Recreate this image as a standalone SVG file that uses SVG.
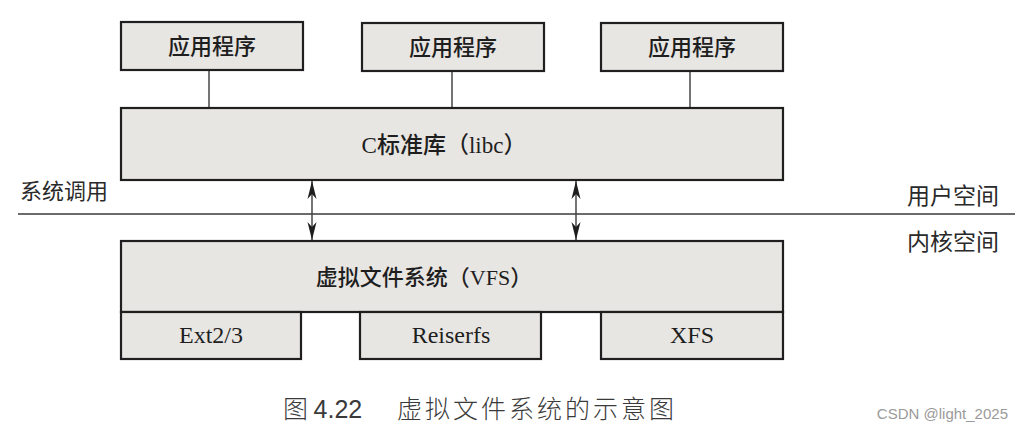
<svg xmlns="http://www.w3.org/2000/svg" width="1023" height="431" viewBox="0 0 1023 431">
  <style>
    .box { fill: #e8e6e3; stroke: #1f1f1f; stroke-width: 2.2; }
    .conn { stroke: #2a2a2a; stroke-width: 1.3; fill: none; }
    .lbl { font-family: "Liberation Serif", "Noto Sans CJK SC", serif; fill: #1e1e1e; text-anchor: middle; font-weight: 500; }
    .en { font-family: "Liberation Serif", serif; fill: #1e1e1e; text-anchor: middle; font-size: 24px; }
    .cn { font-family: "Noto Sans CJK SC", sans-serif; fill: #2a2a2a; font-weight: 400; }
  </style>
  <defs>
    <marker id="ah" viewBox="0 0 18 10" refX="18" refY="5" markerWidth="18" markerHeight="10" markerUnits="userSpaceOnUse" orient="auto-start-reverse">
      <path d="M18,5 L0,0.5 L5,5 L0,9.5 Z" fill="#1e1e1e"/>
    </marker>
  </defs>
  <rect width="1023" height="431" fill="#ffffff"/>

  <g id="connectors">
    <line class="conn" x1="209" y1="70" x2="209" y2="108"/>
    <line class="conn" x1="452" y1="70" x2="452" y2="108"/>
    <line class="conn" x1="690" y1="71" x2="690" y2="108"/>
    <line class="conn" x1="312" y1="181" x2="312" y2="240" marker-start="url(#ah)" marker-end="url(#ah)"/>
    <line class="conn" x1="576" y1="181" x2="576" y2="240" marker-start="url(#ah)" marker-end="url(#ah)"/>
  </g>

  <g id="divider">
    <line x1="18" y1="214" x2="1015" y2="214" stroke="#3a3a3a" stroke-width="1.3"/>
    <text class="cn" x="20" y="199" font-size="22">系统调用</text>
    <text class="cn" x="999" y="204" font-size="23" text-anchor="end">用户空间</text>
    <text class="cn" x="999" y="250" font-size="23" text-anchor="end">内核空间</text>
  </g>

  <g id="app1">
    <rect class="box" x="121" y="22" width="182" height="48"/>
    <text class="lbl" x="212" y="54" font-size="22">应用程序</text>
  </g>
  <g id="app2">
    <rect class="box" x="362" y="23" width="182" height="48"/>
    <text class="lbl" x="453" y="55" font-size="22">应用程序</text>
  </g>
  <g id="app3">
    <rect class="box" x="601" y="23" width="182" height="48"/>
    <text class="lbl" x="692" y="55" font-size="22">应用程序</text>
  </g>

  <g id="libc">
    <rect class="box" x="121" y="108" width="662" height="72"/>
    <text class="lbl" x="444" y="153" font-size="23">C标准库（libc）</text>
  </g>

  <g id="vfs">
    <rect class="box" x="121" y="241" width="662" height="71"/>
    <text class="lbl" x="424" y="285" font-size="22">虚拟文件系统（VFS）</text>
  </g>

  <g id="ext">
    <rect class="box" x="121" y="312" width="180" height="47"/>
    <text class="en" x="211" y="343">Ext2/3</text>
  </g>
  <g id="reiserfs">
    <rect class="box" x="360" y="312" width="181" height="47"/>
    <text class="en" x="451" y="343">Reiserfs</text>
  </g>
  <g id="xfs">
    <rect class="box" x="601" y="312" width="182" height="47"/>
    <text class="en" x="692" y="343">XFS</text>
  </g>

  <g id="caption">
    <text x="283" y="418" font-family="Noto Sans CJK SC, sans-serif" font-size="25" font-weight="300" fill="#3a3a3a">图 <tspan font-family="Liberation Sans, sans-serif">4.22</tspan></text>
    <text x="397" y="418" font-family="Noto Sans CJK SC, sans-serif" font-size="25" font-weight="300" letter-spacing="3" fill="#3a3a3a">虚拟文件系统的示意图</text>
  </g>

  <text x="1008" y="419" font-family="Liberation Sans, Arial, sans-serif" font-size="15" fill="#9a9a9a" text-anchor="end">CSDN @light_2025</text>
</svg>
